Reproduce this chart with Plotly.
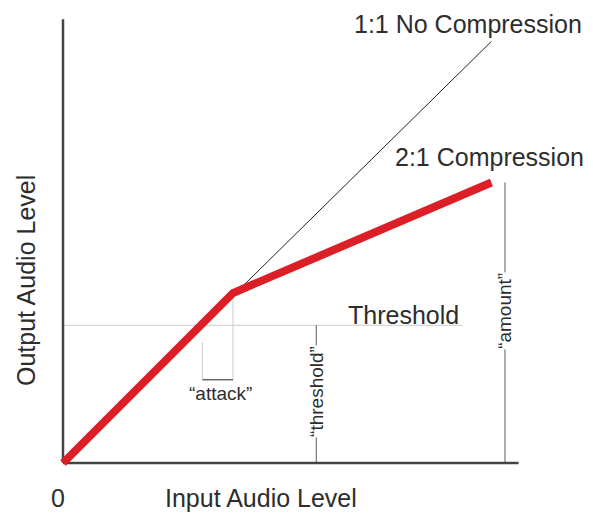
import plotly.graph_objects as go

# chart units: origin at the axes corner
axis_x_end = 26.8
axis_y_end = 26.1

unity_x = [0, 25.2]
unity_y = [0, 24.8]

comp_x = [0, 10, 25.2]
comp_y = [0, 10, 16.5]

threshold_level = 8.1
threshold_line_end = 23.5
threshold_input = 14.9
amount_input = 26.0
amount_output = 16.5

attack_x = [8.2, 10]
attack_top = [7.1, 10]
attack_bottom = 4.9

TEXT = '#2d2d2d'
FONT = 'Liberation Sans, Arial, sans-serif'
LIGHT = '#cccccc'
DARK = '#444444'
RED = '#dc1f26'

fig = go.Figure()

# reference lines
fig.add_trace(go.Scatter(x=[0, threshold_line_end], y=[threshold_level, threshold_level],
                         mode='lines', line=dict(color=LIGHT, width=1)))
for ax, top in zip(attack_x, attack_top):
    fig.add_trace(go.Scatter(x=[ax, ax], y=[attack_bottom, top], mode='lines',
                             line=dict(color=LIGHT, width=1)))
fig.add_trace(go.Scatter(x=attack_x, y=[attack_bottom, attack_bottom], mode='lines',
                         line=dict(color='#666666', width=1.5)))
fig.add_trace(go.Scatter(x=[threshold_input, threshold_input], y=[0, threshold_level],
                         mode='lines', line=dict(color='#777777', width=1.2)))
fig.add_trace(go.Scatter(x=[amount_input, amount_input], y=[0, amount_output],
                         mode='lines', line=dict(color='#777777', width=1.2)))

# axes
fig.add_trace(go.Scatter(x=[0, 0], y=[0, axis_y_end], mode='lines',
                         line=dict(color=DARK, width=2.5)))
fig.add_trace(go.Scatter(x=[0, axis_x_end], y=[0, 0], mode='lines',
                         line=dict(color=DARK, width=2.5)))

# transfer curves
fig.add_trace(go.Scatter(x=unity_x, y=unity_y, mode='lines',
                         line=dict(color='#222222', width=1)))
fig.add_trace(go.Scatter(x=comp_x, y=comp_y, mode='lines',
                         line=dict(color=RED, width=8)))

big = dict(family=FONT, size=25, color=TEXT)
small = dict(family=FONT, size=19, color=TEXT)

labels = [
    ('Output Audio Level', -2.18, 10.76, -90, big, None),
    ('0', -0.3, -2.06, 0, big, None),
    ('Input Audio Level', 11.65, -2.06, 0, big, None),
    ('1:1 No Compression', 23.8, 25.8, 0, big, None),
    ('2:1 Compression', 25.06, 18.0, 0, big, None),
    ('Threshold', 20.03, 8.7, 0, big, None),
    ('\u201cattack\u201d', 9.24, 4.1, 0, small, None),
    ('\u201cthreshold\u201d', threshold_input, 4.2, -90, small, 'white'),
    ('\u201camount\u201d', amount_input, 8.95, -90, small, 'white'),
]
for text, x, y, angle, font, bg in labels:
    fig.add_annotation(x=x, y=y, text=text, showarrow=False, textangle=angle,
                       font=font, bgcolor=bg, borderpad=0,
                       xanchor='center', yanchor='middle')

# page body has an 8px margin, so the figure is 8px smaller each way
fig.update_xaxes(range=[-55 / 17, 530 / 17], visible=False)
fig.update_yaxes(range=[-53 / 17, 455 / 17], visible=False)
fig.update_layout(width=585, height=508, margin=dict(l=0, r=0, t=0, b=0),
                  showlegend=False, plot_bgcolor='white', paper_bgcolor='white')

fig.write_html('out.html')
